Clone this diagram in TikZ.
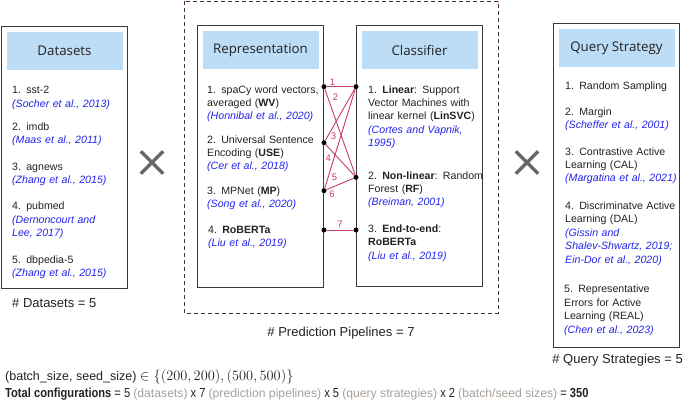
\documentclass[tikz,border=0pt]{standalone}
\usepackage{fontspec}
\setmainfont{Liberation Sans}
\newfontfamily\headfam{Open Sans}
\newfontfamily\narrowfam[FakeStretch=0.85]{Liberation Sans}
\usepackage{tikz}
\usetikzlibrary{positioning, calc, shapes.misc}

\definecolor{headblue}{HTML}{BDDCF5}
\definecolor{boxgray}{HTML}{3A3A3A}
\definecolor{citeblue}{HTML}{2323EB}
\definecolor{pipecolor}{HTML}{C83A6E}
\definecolor{framecolor}{HTML}{4A2C3A}
\definecolor{crossgray}{HTML}{666666}
\definecolor{notegray}{HTML}{A89F98}
\definecolor{textdark}{HTML}{222222}

\newcommand{\pubref}[1]{\textcolor{citeblue}{\itshape #1}}
\newcommand{\bodysize}{\fontsize{10.6}{13.4}\selectfont}
\newcommand{\notegr}[1]{{\normalfont\fontsize{12.2}{13}\selectfont\textcolor{notegray}{#1}}}

\begin{document}
\begin{tikzpicture}[x=1pt, y=-1pt,
    colbox/.style={rectangle,draw=boxgray,line width=1pt,minimum width=126pt,
        anchor=north west,inner sep=0pt},
    headbox/.style={rectangle,fill=headblue,minimum width=116pt,minimum height=38pt,
        font=\headfam\fontsize{13.3}{16}\selectfont,text=textdark,inner sep=0pt},
    itemtext/.style={anchor=base west,inner sep=0pt,text width=125pt,align=left,
        font=\bodysize,text=textdark},
    tally/.style={inner sep=0pt,font=\fontsize{13}{15}\selectfont,text=textdark},
    dot/.style={circle,fill=black,inner sep=0pt,minimum size=5pt},
    pipe/.style={draw=pipecolor,line width=0.9pt},
    pipelbl/.style={font=\fontsize{9.5}{11}\selectfont,text=pipecolor,inner sep=1pt},
    crossmark/.style={cross out,draw=crossgray,line width=3.3pt,minimum size=19pt},
    configline/.style={anchor=base west,inner sep=0pt,text=textdark,
        font=\narrowfam\fontsize{13.1}{15}\selectfont}
]
\useasboundingbox (0,0) rectangle (683,400);

% pipeline frame
\draw[framecolor,line width=1pt,dash pattern=on 4pt off 3pt] (184,1) rectangle (498,313);

% the four columns
\node[colbox,minimum height=262pt] (dsbox) at (1,26) {};
\node[colbox,minimum height=262pt] (repbox) at (197,25) {};
\node[colbox,minimum height=261pt] (clsbox) at (356,25) {};
\node[colbox,minimum height=324pt] (qsbox) at (553,23) {};

\node[headbox,below=6pt of dsbox.north] (dshead) {Datasets};
\node[headbox,below=6pt of repbox.north] (rephead) {Representation};
\node[headbox,below=6pt of clsbox.north] (clshead) {Classifier};
\node[headbox,below=6pt of qsbox.north] (qshead) {Query Strategy};

% datasets
\node[itemtext] (ds1) at (12,93.7) {1. sst-2\\\pubref{(Socher et al., 2013)}};
\node[itemtext] (ds2) at (12,130.3) {2. imdb\\\pubref{(Maas et al., 2011)}};
\node[itemtext] (ds3) at (12,170.3) {3. agnews\\\pubref{(Zhang et al., 2015)}};
\node[itemtext] (ds4) at (12,209.7)
    {4. pubmed\\\pubref{(Dernoncourt and}\\\pubref{Lee, 2017)}};
\node[itemtext] (ds5) at (12,263) {5. dbpedia-5\\\pubref{(Zhang et al., 2015)}};

% representations
\node[itemtext] (rep1) at (207,93)
    {1. spaCy word vectors,\\averaged (\textbf{WV})\\\pubref{(Honnibal et al., 2020)}};
\node[itemtext] (rep2) at (207,143)
    {2. Universal Sentence\\Encoding (\textbf{USE})\\\pubref{(Cer et al., 2018)}};
\node[itemtext] (rep3) at (207,194) {3. MPNet (\textbf{MP})\\\pubref{(Song et al., 2020)}};
\node[itemtext] (rep4) at (208,233.5) {4. \textbf{RoBERTa}\\\pubref{(Liu et al., 2019)}};

% classifiers
\node[itemtext] (cls1) at (368,93)
    {1. \textbf{Linear}: Support\\Vector Machines with\\linear kernel (\textbf{LinSVC})\\
     \pubref{(Cortes and Vapnik,}\\\pubref{1995)}};
\node[itemtext] (cls2) at (368,179)
    {2. \textbf{Non-linear}: Random\\Forest (\textbf{RF})\\\pubref{(Breiman, 2001)}};
\node[itemtext] (cls3) at (368,232.3)
    {3. \textbf{End-to-end}:\\\textbf{RoBERTa}\\\pubref{(Liu et al., 2019)}};

% query strategies
\node[itemtext] (qs1) at (565,89.5) {1. Random Sampling};
\node[itemtext] (qs2) at (565,115.5) {2. Margin\\\pubref{(Scheffer et al., 2001)}};
\node[itemtext] (qs3) at (565,155)
    {3. Contrastive Active\\Learning (CAL)\\\pubref{(Margatina et al., 2021)}};
\node[itemtext] (qs4) at (565,209.5)
    {4. Discriminatve Active\\Learning (DAL)\\\pubref{(Gissin and}\\
     \pubref{Shalev-Shwartz, 2019;}\\\pubref{Ein-Dor et al., 2020)}};
\node[itemtext] (qs5) at (564,292.8)
    {5. Representative\\Errors for Active\\Learning (REAL)\\\pubref{(Chen et al., 2023)}};

% pipeline end points
\node[dot] (pWV) at ($(repbox.north east)+(0,61.7)$) {};
\node[dot] (pUSE) at ($(repbox.north east)+(0,117.7)$) {};
\node[dot] (pMP) at ($(repbox.north east)+(0,165.7)$) {};
\node[dot] (pRB) at ($(repbox.north east)+(0,205)$) {};
\node[dot] (cLin) at ($(clsbox.north west)+(0,61.7)$) {};
\node[dot] (cRF) at ($(clsbox.north west)+(0,152.3)$) {};
\node[dot] (cE2E) at ($(clsbox.north west)+(0,205)$) {};

\draw[pipe] (pWV) -- node[pipelbl,pos=0.22,above] {1} (cLin);
\draw[pipe] (pWV) -- node[pipelbl,pos=0.09,right=3.8pt] {2} (cRF);
\draw[pipe] (pUSE) -- node[pipelbl,pos=0.09,right=1.5pt] {3} (cLin);
\draw[pipe] (pUSE) -- node[pipelbl,pos=0.09,below=6pt] {4} (cRF);
\draw[pipe] (pMP) -- node[pipelbl,pos=0.11,right=2.2pt] {5} (cLin);
\draw[pipe] (pMP) -- node[pipelbl,pos=0.2,below=2pt] {6} (cRF);
\draw[pipe] (pRB) -- node[pipelbl,midway,above=1pt] {7} (cE2E);

% products
\node[crossmark] (times1) at (152,162.5) {};
\node[crossmark] (times2) at (527,162.5) {};

% counts
\node[tally,anchor=base west] (dscount) at (12,307) {\# Datasets = 5};
\node[tally,anchor=base] (ppcount) at (341,336) {\# Prediction Pipelines = 7};
\node[tally,anchor=base east] (qscount) at (683,363) {\# Query Strategies = 5};

% totals
\node[configline,font=\fontsize{12.5}{14}\selectfont] (sizes) at (5,380)
    {(batch\_size, seed\_size) {\fontsize{14}{16}\selectfont$\in\{(200,200),(500,500)\}$}};
\node[configline] (total) at (5,397)
    {\textbf{Total configurations} = 5 \notegr{(datasets)} x 7 \notegr{(prediction pipelines)}
     x 5 \notegr{(query strategies)} x 2 \notegr{(batch/seed sizes)} = \textbf{350}};
\end{tikzpicture}
\end{document}
